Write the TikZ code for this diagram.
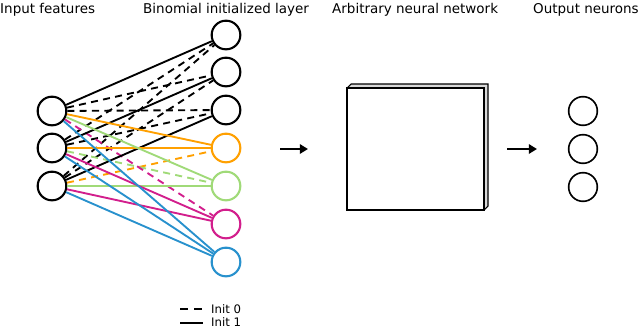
\documentclass[tikz,border=0pt]{standalone}
\usepackage{fontspec}
\setmainfont{DejaVu Sans}
\usepackage{tikz}
\usetikzlibrary{arrows.meta, positioning, calc}

\definecolor{orng}{RGB}{255,160,0}
\definecolor{grn}{RGB}{160,218,120}
\definecolor{mgnt}{RGB}{210,30,140}
\definecolor{blu}{RGB}{40,145,205}

\begin{document}
\begin{tikzpicture}[
    x=0.3mm, y=-0.3mm,
    neu/.style={draw, circle, line width=1.8pt, minimum size=8.6mm, inner sep=0pt, fill=white},
    ttl/.style={font=\fontsize{11.5}{13}\selectfont, anchor=base west, inner sep=0pt},
    lnk/.style={line width=1.6pt},
    dsh/.style={line width=1.6pt, dash pattern=on 6pt off 4.5pt},
    arr/.style={-{Triangle[length=7pt, width=8pt]}, line width=2.4pt},
]
    \useasboundingbox (0,0) rectangle (640,326);

    % titles
    \node[ttl] (t1) at (0,13) {Input features};
    \node[ttl] (t2) at (143,13) {Binomial initialized layer};
    \node[ttl] (t3) at (332,13) {Arbitrary neural network};
    \node[ttl] (t4) at (533,13) {Output neurons};

    % input layer
    \node[neu] (i1) at (52,111) {};
    \node[neu] (i2) at (52,148) {};
    \node[neu] (i3) at (52,186) {};

    % binomial layer
    \node[neu] (h1) at (226,35) {};
    \node[neu] (h2) at (226,72) {};
    \node[neu] (h3) at (226,110) {};
    \node[neu, draw=orng] (h4) at (226,148) {};
    \node[neu, draw=grn] (h5) at (226,186) {};
    \node[neu, draw=mgnt] (h6) at (226,224) {};
    \node[neu, draw=blu] (h7) at (226,262) {};

    % init 0
    \draw[dsh] (i2) -- (h1);
    \draw[dsh] (i3) -- (h1);
    \draw[dsh] (i1) -- (h2);
    \draw[dsh] (i3) -- (h2);
    \draw[dsh] (i1) -- (h3);
    \draw[dsh] (i2) -- (h3);
    \draw[dsh, orng] (i3) -- (h4);
    \draw[dsh, grn] (i2) -- (h5);
    \draw[dsh, mgnt] (i1) -- (h6);

    % init 1
    \draw[lnk] (i1) -- (h1);
    \draw[lnk] (i2) -- (h2);
    \draw[lnk] (i3) -- (h3);
    \draw[lnk, orng] (i1) -- (h4);
    \draw[lnk, orng] (i2) -- (h4);
    \draw[lnk, grn] (i1) -- (h5);
    \draw[lnk, grn] (i3) -- (h5);
    \draw[lnk, mgnt] (i2) -- (h6);
    \draw[lnk, mgnt] (i3) -- (h6);
    \draw[lnk, blu] (i1) -- (h7);
    \draw[lnk, blu] (i2) -- (h7);
    \draw[lnk, blu] (i3) -- (h7);

    % network block
    \draw[line width=0.9pt, fill=gray!30] (347,88) -- (351,84) -- (488,84) -- (488,206) -- (484,210) -- cycle;
    \node[draw, line width=1pt, fill=white, minimum width=41.1mm, minimum height=36.6mm, inner sep=0pt] (nn) at (415.5,149) {};

    % output layer
    \node[neu, line width=1.4pt] (o1) at (583,111) {};
    \node[neu, line width=1.4pt] (o2) at (583,149) {};
    \node[neu, line width=1.4pt] (o3) at (583,187) {};

    % arrows
    \coordinate (a1) at (280,149);
    \coordinate (b1) at (308,149);
    \coordinate (a2) at (507,149);
    \coordinate (b2) at (537,149);
    \draw[arr] (a1) -- (b1);
    \draw[arr] (a2) -- (b2);

    % legend
    \coordinate (l0a) at (180,309);
    \coordinate (l0b) at (203,309);
    \coordinate (l1a) at (180,323);
    \coordinate (l1b) at (203,323);
    \draw[dsh, dash pattern=on 7pt off 5pt] (l0a) -- (l0b);
    \draw[lnk, line width=1.8pt] (l1a) -- (l1b);
    \node[font=\fontsize{10}{12}\selectfont, anchor=base west, inner sep=0pt] (k0) at (211,313) {Init 0};
    \node[font=\fontsize{10}{12}\selectfont, anchor=base west, inner sep=0pt] (k1) at (211,326) {Init 1};
\end{tikzpicture}
\end{document}
